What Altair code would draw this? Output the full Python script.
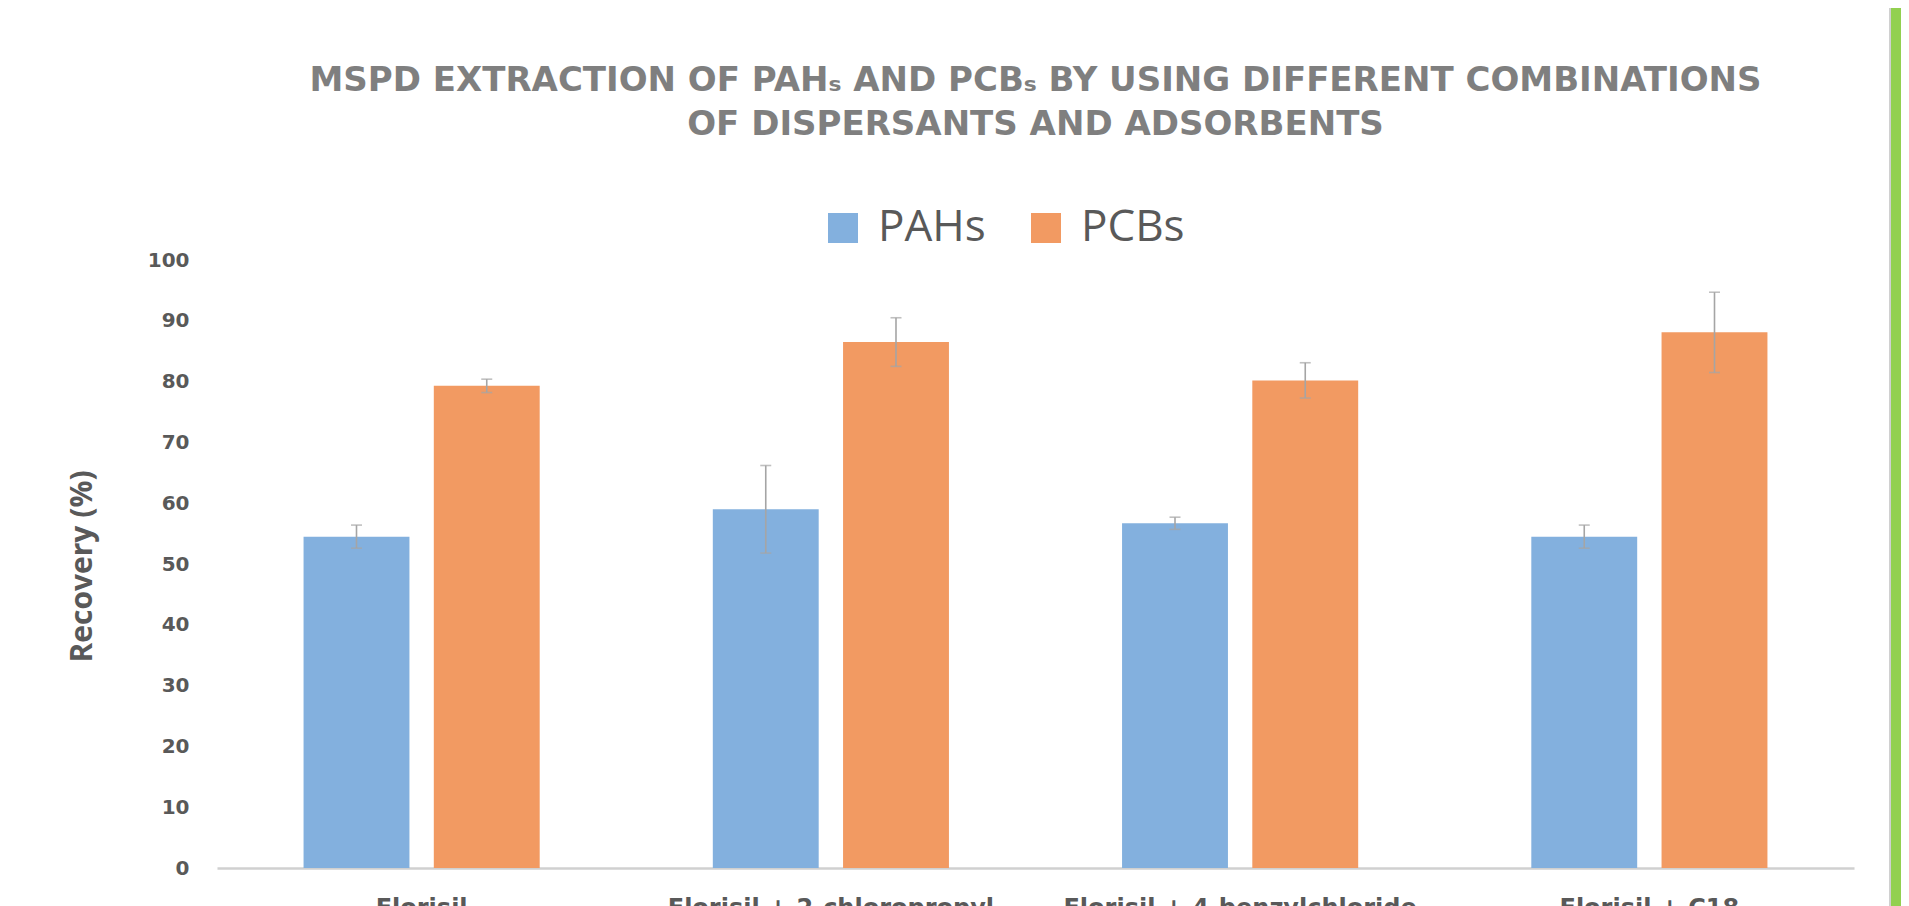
import altair as alt
import pandas as pd

# ---- data ----
categories = ["Florisil", "Florisil + 2-chloropropyl", "Florisil + 4-benzylchloride", "Florisil + C18"]
series = ["PAHs", "PCBs"]
pahs = [54.5, 59.0, 56.7, 54.5]
pahs_err = [1.9, 7.2, 1.0, 1.9]
pcbs = [79.3, 86.5, 80.2, 88.1]
pcbs_err = [1.1, 4.0, 2.9, 6.6]
y_ticks = [0, 10, 20, 30, 40, 50, 60, 70, 80, 90, 100]

rows = []
for c, v, e in zip(categories, pahs, pahs_err):
    rows.append({"Sorbent": c, "Series": "PAHs", "Recovery": v, "lo": v - e, "hi": v + e})
for c, v, e in zip(categories, pcbs, pcbs_err):
    rows.append({"Sorbent": c, "Series": "PCBs", "Recovery": v, "lo": v - e, "hi": v + e})
df = pd.DataFrame(rows)

FONT = "Open Sans"
WIDE = "DejaVu Sans"
TXT = "#595959"

x_enc = alt.X(
    "Sorbent:N", sort=categories, title=None,
    scale=alt.Scale(paddingInner=0.423, paddingOuter=0.2115),
    axis=alt.Axis(labelAngle=0, labelFont=WIDE, labelFontSize=24, labelFontWeight="bold",
                  labelColor=TXT, labelPadding=28, labelLimit=1000, ticks=False, domain=True,
                  domainColor="#D0D0D0", domainWidth=2.5, grid=False),
)
xo_enc = alt.XOffset("Series:N", sort=series, scale=alt.Scale(paddingInner=0.187, paddingOuter=0))

bars = alt.Chart(df).mark_bar(opacity=1).encode(
    x=x_enc,
    xOffset=xo_enc,
    y=alt.Y("Recovery:Q", scale=alt.Scale(domain=[0, 100], nice=False),
            axis=alt.Axis(values=y_ticks, title="Recovery (%)", domain=False, ticks=False, grid=False,
                          labelFont=WIDE, labelFontSize=20, labelFontWeight="bold", labelColor=TXT,
                          labelPadding=28, titleFont=FONT, titleFontSize=30, titleFontWeight="bold",
                          titleColor=TXT, titleX=-135, titleY=306, titleAngle=-90,
                          titleAlign="center", titleBaseline="middle")),
    color=alt.Color("Series:N", sort=series,
                    scale=alt.Scale(domain=series, range=["#83B0DE", "#F29A62"]),
                    legend=alt.Legend(title=None, orient="none", direction="horizontal",
                                      legendX=604, legendY=-54, symbolType="square", symbolSize=900,
                                      symbolStrokeWidth=0, labelFont=FONT, labelFontSize=44,
                                      labelColor=TXT, labelOffset=13, columnPadding=38,
                                      symbolOpacity=1)),
)

err_rule = alt.Chart(df).mark_rule(color="#A5A5A5", strokeWidth=1.6).encode(
    x=alt.X("Sorbent:N", sort=categories),
    xOffset=alt.XOffset("Series:N", sort=series),
    y="lo:Q", y2="hi:Q",
)
cap_lo = alt.Chart(df).mark_tick(color="#A5A5A5", thickness=1.6, size=11, orient="horizontal").encode(
    x=alt.X("Sorbent:N", sort=categories),
    xOffset=alt.XOffset("Series:N", sort=series),
    y="lo:Q",
)
cap_hi = alt.Chart(df).mark_tick(color="#A5A5A5", thickness=1.6, size=11, orient="horizontal").encode(
    x=alt.X("Sorbent:N", sort=categories),
    xOffset=alt.XOffset("Series:N", sort=series),
    y="hi:Q",
)

# decorative green frame strip at the right edge of the slide
frame_df = pd.DataFrame({"k": [0]})
frame = alt.Chart(frame_df).mark_rect(color="#92D050").encode(
    x=alt.value(1674), x2=alt.value(1700), y=alt.value(-252), y2=alt.value(690)
)
frame_line = alt.Chart(frame_df).mark_rule(color="#D0D0D0", strokeWidth=2).encode(
    x=alt.value(1673), y=alt.value(-252), y2=alt.value(690)
)

chart = alt.layer(bars, err_rule, cap_lo, cap_hi, frame, frame_line).properties(
    width=1637, height=608,
    title=alt.TitleParams(
        text=["MSPD EXTRACTION OF PAHₛ AND PCBₛ BY USING DIFFERENT COMBINATIONS",
              "OF DISPERSANTS AND ADSORBENTS"],
        font=WIDE, fontSize=34, fontWeight="bold", color="#7F7F7F",
        anchor="middle", frame="group", lineHeight=44, offset=0, dy=135,
    ),
    autosize=alt.AutoSizeParams(type="none"),
    padding={"left": 209, "top": 252, "right": 47, "bottom": 70},
).configure(background="white", view=alt.ViewConfig(stroke=None))

chart.save("out.html", embed_options={"renderer": "svg", "actions": False})
